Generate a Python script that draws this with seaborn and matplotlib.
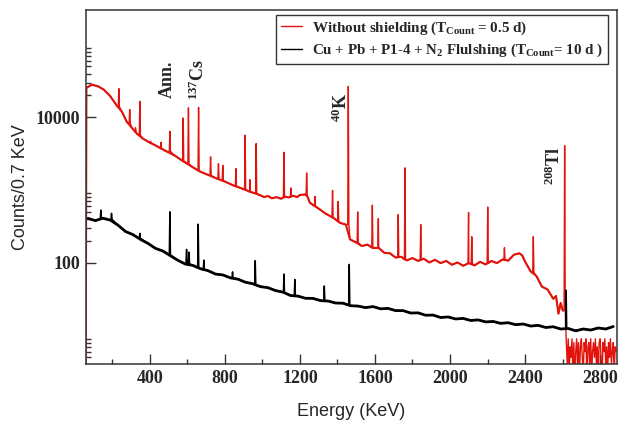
import numpy as np
import pandas as pd
import seaborn as sns
import matplotlib
matplotlib.use('Agg')
import matplotlib.pyplot as plt
from matplotlib.ticker import FixedLocator, FuncFormatter, NullFormatter

# Spectrum without shielding (red) - continuum
red_E = [60, 64, 91, 123, 155, 187, 224, 251, 277, 304, 331, 363, 400, 443, 491, 533,
         581, 624, 667, 720, 757, 800, 848, 891, 933, 962, 992, 1010, 1030, 1050, 1076,
         1100, 1120, 1140, 1164, 1185, 1200, 1227, 1240, 1253, 1280, 1307, 1334, 1360,
         1387, 1413, 1445, 1467, 1500, 1530, 1560, 1590, 1620, 1650, 1680, 1710, 1740,
         1770, 1800, 1830, 1860, 1890, 1920, 1950, 1980, 2010, 2040, 2070, 2100, 2130,
         2160, 2190, 2220, 2250, 2280, 2310, 2340, 2370, 2385, 2400, 2430, 2460, 2490,
         2520, 2550, 2565, 2578, 2590, 2601]
red_C = [1, 25600, 28100, 26800, 24000, 19900, 14500, 12000, 8700, 7200, 5970, 5100,
         4490, 3950, 3380, 2980, 2460, 2100, 1800, 1580, 1440, 1310, 1150, 1050, 950, 900,
         840, 800, 830, 770, 800, 760, 815, 790, 835, 800, 855, 870, 820, 670, 600, 540,
         480, 440, 400, 355, 335, 210, 190, 170, 178, 160, 160, 137, 135, 118, 121, 108,
         116, 106, 114, 101, 110, 99, 106, 94, 101, 91, 99, 92, 103, 95, 106, 99, 111, 107,
         129, 135, 126, 104, 76, 66, 47, 43, 32, 35, 20, 28, 22]
# red lines (energy, top, continuum under it)
red_pk_E = [235, 293, 324, 347, 404, 460, 507, 578, 606, 660, 724, 766, 789, 859, 908,
            933, 967, 1115, 1152, 1236, 1280, 1374, 1404, 1458, 1508, 1586, 1618, 1724,
            1760, 1844, 2099, 2116, 2201, 2290, 2444, 2611]
red_pk_top = [24800, 12800, 7200, 16600, 4680, 4540, 6420, 9800, 13500, 13700, 2860, 2310,
              2190, 1970, 5660, 1390, 4360, 3300, 1070, 1720, 820, 990, 700, 26700, 500,
              620, 406, 460, 2020, 335, 491, 228, 583, 161, 228, 4080]
red_pk_base = [14000, 8300, 6300, 5700, 4450, 3700, 3400, 2500, 2300, 1850, 1580, 1420,
               1340, 1130, 1020, 950, 900, 790, 820, 870, 600, 420, 370, 335, 190, 160,
               160, 120, 110, 111, 98, 98, 98, 110, 74, 22]
# above 2.6 MeV the unshielded spectrum is just a few counts per channel
red_tail_E = list(range(2620, 2890, 5))
red_tail_C = [8, 4, 9, 3, 7, 5, 9, 3, 8, 2, 6, 9, 4, 8, 3, 7, 9, 5, 3, 8,
              6, 9, 2, 7, 8, 4, 9, 3, 6, 8, 5, 9, 4, 7, 3, 8, 9, 5, 2, 8,
              6, 9, 4, 7, 3, 8, 5, 9, 4, 6, 8, 3, 7, 6]

# Shielded spectrum (black), continuum every 40 keV
blk_E = list(range(70, 2900, 40))
blk_C = [408, 380, 410, 386, 330, 270, 244, 210, 185, 158, 145, 125, 108, 96, 92, 83,
         78, 70, 68, 62, 59.5, 54, 51.5, 47, 45.5, 41.5, 39.5, 35.5, 34.8, 32.5, 32.4,
         30.2, 29.8, 28, 27.8, 25.7, 25.4, 24.2, 25, 23.3, 23.6, 22, 22, 20.4, 20.5, 19,
         19.1, 17.7, 18, 16.9, 17.2, 16.1, 16.4, 15.4, 15.6, 14.7, 15, 14.1, 14.4, 13.5,
         13.8, 12.9, 13.2, 12.3, 12.5, 11.6, 12.3, 11.9, 12.7, 12.3, 13.3]
blk_pk_E = [139, 196, 347, 507, 596, 609, 658, 688, 841, 962, 1115, 1173, 1330, 1463, 2619]
blk_pk_top = [530, 478, 254, 502, 153, 140, 340, 109, 75, 107, 70, 59, 48, 95, 42]
blk_pk_base = [400, 395, 216, 128, 100, 97, 85, 80, 62, 49, 39, 35, 30, 26, 12.3]

labels = [r'Without shielding (T$_{\rm Count}$ = 0.5 d)',
          r'Cu + Pb + P1-4 + N$_2$ Flulshing (T$_{\rm Count}$= 10 d )']
line_names = ['Ann.', r'$^{137}$Cs', r'$^{40}$K', r'$^{208}$Tl']
line_E = [496, 656, 1419, 2555]
line_lbl_y = [18600, 17500, 8730, 1190]


def spectrum(ce, cc, pe, ptop, pbase, te=(), tc=()):
    e = list(ce) + list(te)
    c = list(cc) + list(tc)
    for x, top, base in zip(pe, ptop, pbase):
        e += [x - 3, x, x + 3]
        c += [base, top, base]
    return pd.DataFrame({'E': e, 'C': c}).sort_values('E', kind='stable')


red = spectrum(red_E, red_C, red_pk_E, red_pk_top, red_pk_base, red_tail_E, red_tail_C)
blk = spectrum(blk_E, blk_C, blk_pk_E, blk_pk_top, blk_pk_base)
red_cont = pd.DataFrame({'E': red_E[1:], 'C': red_C[1:]})
blk_cont = pd.DataFrame({'E': blk_E, 'C': blk_C})

sns.set_style('ticks')
plt.rcParams['font.family'] = ['Liberation Serif', 'DejaVu Sans']
plt.rcParams['mathtext.fontset'] = 'custom'
plt.rcParams['mathtext.rm'] = 'Liberation Serif:bold'
plt.rcParams['mathtext.it'] = 'Liberation Serif:bold'
plt.rcParams['mathtext.bf'] = 'Liberation Serif:bold'

fig = plt.figure(figsize=(6.18, 4.23), dpi=100)
ax = fig.add_axes([86 / 618, 59 / 423, 531 / 618, 354 / 423])

# noisy continuum band drawn a bit thicker, full spectrum (with lines) on top
sns.lineplot(data=red_cont, x='E', y='C', ax=ax, color='#e2120c', lw=1.5,
             estimator=None, sort=False, legend=False)
sns.lineplot(data=red, x='E', y='C', ax=ax, color='#e2120c', lw=1.0,
             estimator=None, sort=False, label=labels[0])
sns.lineplot(data=blk_cont, x='E', y='C', ax=ax, color='black', lw=2.0,
             estimator=None, sort=False, legend=False)
sns.lineplot(data=blk, x='E', y='C', ax=ax, color='black', lw=1.1,
             estimator=None, sort=False, label=labels[1])

ax.set_yscale('log')
ax.set_xlim(60, 2890)
ax.set_ylim(4.06, 2.99e5)

ax.xaxis.set_major_locator(FixedLocator([400, 800, 1200, 1600, 2000, 2400, 2800]))
ax.xaxis.set_minor_locator(FixedLocator([200, 600, 1000, 1400, 1800, 2200, 2600]))
ax.yaxis.set_major_locator(FixedLocator([1, 100, 10000, 1e6]))
ax.yaxis.set_minor_locator(FixedLocator([m * 10.0 ** k for k in (0, 2, 4) for m in range(2, 10)]))
ax.yaxis.set_major_formatter(FuncFormatter(lambda v, p: '%d' % v))
ax.yaxis.set_minor_formatter(NullFormatter())

ax.tick_params(which='both', direction='in', color='#333333', width=1.0)
ax.tick_params(which='major', length=7, labelsize=13, pad=4)
ax.tick_params(which='minor', length=3.5)
for t in ax.get_xticklabels() + ax.get_yticklabels():
    t.set_fontweight('bold')
for s in ax.spines.values():
    s.set_color('#333333')
    s.set_linewidth(1.1)

ax.set_xlabel('Energy (KeV)', fontfamily='Liberation Sans', fontsize=13, labelpad=12)
ax.set_ylabel('Counts/0.7 KeV', fontfamily='Liberation Sans', fontsize=13, labelpad=5)

for name, x, y in zip(line_names, line_E, line_lbl_y):
    ax.text(x, y, name, rotation=90, ha='center', va='bottom', fontsize=13,
            fontweight='bold')

leg = ax.legend(loc='upper right', bbox_to_anchor=(0.983, 0.986), borderaxespad=0,
                frameon=True, fancybox=False, framealpha=1, edgecolor='#333333',
                prop={'family': 'Liberation Serif', 'weight': 'bold', 'size': 10.8},
                handlelength=1.4, handletextpad=0.7, borderpad=0.3, labelspacing=0.35)
leg.get_frame().set_linewidth(1.0)
for h in leg.get_lines():
    h.set_linewidth(1.0)

fig.savefig('out.png', dpi=100)
